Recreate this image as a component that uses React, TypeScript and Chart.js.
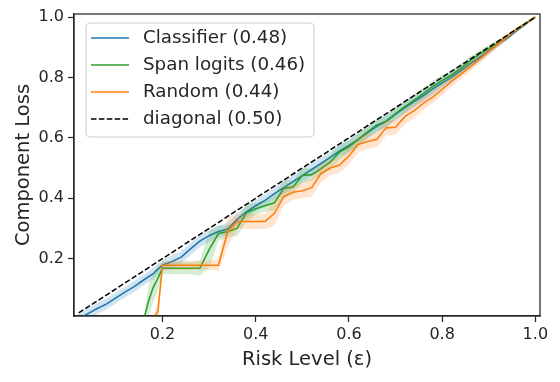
import React, { useEffect, useRef } from "react";
import { Chart, registerables } from "chart.js";

Chart.register(...registerables);

// ---- data ----
const RISK = [
  0.02, 0.04, 0.06, 0.08, 0.1, 0.12, 0.14, 0.16, 0.17, 0.18, 0.19,
  0.2, 0.22, 0.24, 0.26, 0.28, 0.3, 0.32, 0.34, 0.36, 0.38,
  0.4, 0.42, 0.44, 0.46, 0.48, 0.5, 0.52, 0.54, 0.56, 0.58,
  0.6, 0.62, 0.64, 0.66, 0.68, 0.7, 0.72, 0.74, 0.76, 0.78,
  0.8, 0.82, 0.84, 0.86, 0.88, 0.9, 0.92, 0.94, 0.96, 0.98, 1.0,
];

const CLASSIFIER = [
  0.0, 0.018, 0.035, 0.05, 0.07, 0.09, 0.108, 0.13, 0.14, 0.15, 0.165,
  0.178, 0.19, 0.205, 0.232, 0.258, 0.276, 0.29, 0.298, 0.33, 0.355,
  0.375, 0.393, 0.415, 0.435, 0.455, 0.475, 0.495, 0.515, 0.535, 0.557,
  0.575, 0.595, 0.617, 0.638, 0.655, 0.678, 0.7, 0.72, 0.74, 0.762,
  0.782, 0.8, 0.822, 0.845, 0.866, 0.887, 0.91, 0.93, 0.955, 0.977, 1.0,
];
const CLASSIFIER_ERR = [
  0.018, 0.018, 0.018, 0.018, 0.018, 0.018, 0.018, 0.018, 0.018, 0.018, 0.018,
  0.018, 0.02, 0.02, 0.02, 0.02, 0.02, 0.02, 0.02, 0.02, 0.02,
  0.02, 0.02, 0.02, 0.02, 0.022, 0.022, 0.022, 0.02, 0.02, 0.02,
  0.02, 0.02, 0.02, 0.02, 0.02, 0.02, 0.02, 0.02, 0.02, 0.02,
  0.018, 0.016, 0.016, 0.015, 0.014, 0.012, 0.01, 0.008, 0.006, 0.004, 0.0,
];

const SPAN_LOGITS = [
  0, 0, 0, 0, 0, 0, 0, 0, 0.06, 0.105, 0.135,
  0.168, 0.168, 0.168, 0.168, 0.168, 0.23, 0.283, 0.29, 0.3, 0.352,
  0.365, 0.375, 0.385, 0.432, 0.437, 0.475, 0.478, 0.497, 0.52, 0.553,
  0.57, 0.595, 0.62, 0.643, 0.655, 0.68, 0.703, 0.725, 0.747, 0.77,
  0.79, 0.808, 0.83, 0.855, 0.877, 0.895, 0.915, 0.937, 0.96, 0.98, 1.0,
];
const SPAN_LOGITS_ERR = [
  0, 0, 0, 0, 0, 0, 0, 0, 0.05, 0.05, 0.04,
  0.02, 0.02, 0.02, 0.02, 0.025, 0.06, 0.025, 0.02, 0.025, 0.03,
  0.02, 0.02, 0.025, 0.03, 0.02, 0.025, 0.02, 0.02, 0.025, 0.025,
  0.02, 0.02, 0.02, 0.02, 0.02, 0.02, 0.02, 0.02, 0.02, 0.02,
  0.018, 0.016, 0.016, 0.015, 0.014, 0.012, 0.01, 0.008, 0.006, 0.004, 0.0,
];

const RANDOM = [
  0, 0, 0, 0, 0, 0, 0, 0, 0, 0.0, 0.025,
  0.178, 0.178, 0.178, 0.178, 0.178, 0.178, 0.178, 0.29, 0.323, 0.323,
  0.323, 0.323, 0.35, 0.405, 0.42, 0.425, 0.435, 0.482, 0.5, 0.51,
  0.54, 0.578, 0.588, 0.595, 0.633, 0.635, 0.67, 0.69, 0.715, 0.735,
  0.76, 0.787, 0.81, 0.835, 0.86, 0.885, 0.91, 0.935, 0.958, 0.98, 1.0,
];
const RANDOM_ERR = [
  0, 0, 0, 0, 0, 0, 0, 0, 0, 0.01, 0.03,
  0.015, 0.015, 0.015, 0.015, 0.015, 0.015, 0.02, 0.05, 0.025, 0.025,
  0.025, 0.025, 0.04, 0.03, 0.025, 0.025, 0.03, 0.03, 0.025, 0.025,
  0.03, 0.025, 0.025, 0.025, 0.025, 0.025, 0.025, 0.025, 0.022, 0.02,
  0.02, 0.018, 0.016, 0.015, 0.014, 0.012, 0.01, 0.008, 0.006, 0.004, 0.0,
];

const DIAG_X = [0.02, 1.0];
const DIAG_Y = [0.02, 1.0];

const LABELS = ["Classifier (0.48)", "Span logits (0.46)", "Random (0.44)", "diagonal (0.50)"];
const COLORS = ["#1f77b4", "#2ca02c", "#ff7f0e", "#000000"];
const BANDS = ["rgba(31,119,180,0.2)", "rgba(44,160,44,0.2)", "rgba(255,127,14,0.2)"];

const X_TICKS = [0.2, 0.4, 0.6, 0.8, 1.0];
const Y_TICKS = [0.2, 0.4, 0.6, 0.8, 1.0];
const X_TITLE = "Risk Level (\u03b5)";
const Y_TITLE = "Component Loss";

const FONT = "'DejaVu Sans', sans-serif";
const INK = "#262626";

export default function App() {
  const ref = useRef<HTMLCanvasElement>(null);

  useEffect(() => {
    const series = [CLASSIFIER, SPAN_LOGITS, RANDOM];
    const errs = [CLASSIFIER_ERR, SPAN_LOGITS_ERR, RANDOM_ERR];
    const pts = (ys: number[], es: number[] | null, s: number) =>
      RISK.map((x, i) => ({ x, y: ys[i] + (es ? s * es[i] : 0) }));

    const datasets: any[] = [];
    datasets.push({
      label: LABELS[3],
      data: DIAG_X.map((x, i) => ({ x, y: DIAG_Y[i] })),
      borderColor: COLORS[3],
      borderWidth: 1.5,
      borderDash: [5.5, 2.4],
      pointRadius: 0,
      fill: false,
      order: 0,
    });
    // draw order: Random on top, then Span, then Classifier
    [2, 1, 0].forEach((k, j) => {
      datasets.push({
        label: LABELS[k],
        data: pts(series[k], null, 0),
        borderColor: COLORS[k],
        borderWidth: 1.6,
        pointRadius: 0,
        fill: false,
        order: 1 + j * 2,
      });
      datasets.push({
        label: "_upper" + k,
        data: pts(series[k], errs[k], 1),
        borderWidth: 0,
        borderColor: "rgba(0,0,0,0)",
        backgroundColor: BANDS[k],
        pointRadius: 0,
        fill: "+1",
        order: 2 + j * 2,
      });
      datasets.push({
        label: "_lower" + k,
        data: pts(series[k], errs[k], -1),
        borderWidth: 0,
        borderColor: "rgba(0,0,0,0)",
        pointRadius: 0,
        fill: false,
        order: 2 + j * 2,
      });
    });

    const framePlugin = {
      id: "frameAndLegend",
      afterDraw(chart: any) {
        const { ctx, chartArea: a } = chart;
        ctx.save();
        ctx.strokeStyle = INK;
        ctx.lineWidth = 1.25;
        ctx.strokeRect(a.left, a.top, a.right - a.left, a.bottom - a.top);

        // legend box
        const bx = 86, by = 23, bw = 228, bh = 114, r = 4;
        ctx.beginPath();
        ctx.moveTo(bx + r, by);
        ctx.lineTo(bx + bw - r, by);
        ctx.quadraticCurveTo(bx + bw, by, bx + bw, by + r);
        ctx.lineTo(bx + bw, by + bh - r);
        ctx.quadraticCurveTo(bx + bw, by + bh, bx + bw - r, by + bh);
        ctx.lineTo(bx + r, by + bh);
        ctx.quadraticCurveTo(bx, by + bh, bx, by + bh - r);
        ctx.lineTo(bx, by + r);
        ctx.quadraticCurveTo(bx, by, bx + r, by);
        ctx.closePath();
        ctx.fillStyle = "rgba(255,255,255,0.8)";
        ctx.fill();
        ctx.strokeStyle = "#cccccc";
        ctx.lineWidth = 1;
        ctx.stroke();

        const rows = [38, 65, 92, 119];
        ctx.font = `18.3px ${FONT}`;
        ctx.textBaseline = "middle";
        ctx.textAlign = "left";
        LABELS.forEach((lab, i) => {
          const y = rows[i];
          ctx.beginPath();
          ctx.strokeStyle = COLORS[i];
          ctx.lineWidth = i === 3 ? 1.5 : 1.6;
          ctx.setLineDash(i === 3 ? [5.5, 2.4] : []);
          ctx.moveTo(91, y);
          ctx.lineTo(129, y);
          ctx.stroke();
          ctx.setLineDash([]);
          ctx.fillStyle = INK;
          ctx.fillText(lab, 143, y);
        });
        ctx.restore();
      },
    };

    const chart = new Chart(ref.current as HTMLCanvasElement, {
      type: "line",
      data: { datasets },
      options: {
        animation: false,
        responsive: false,
        layout: { padding: { top: 14, right: 20, left: 0, bottom: 0 } },
        plugins: { legend: { display: false }, tooltip: { enabled: false } },
        scales: {
          x: {
            type: "linear",
            min: 0.01,
            max: 1.01,
            afterBuildTicks: (s: any) => {
              s.ticks = X_TICKS.map((v) => ({ value: v }));
            },
            afterFit: (s: any) => {
              s.height = 66;
            },
            ticks: {
              font: { family: FONT, size: 16 },
              color: INK,
              padding: 3,
              maxRotation: 0,
              autoSkip: false,
              callback: (v: any) => Number(v).toFixed(1),
            },
            grid: {
              display: true,
              drawOnChartArea: false,
              drawTicks: true,
              tickLength: 6,
              tickWidth: 1.25,
              tickColor: INK,
            },
            border: { display: true, color: INK, width: 1.25 },
            title: {
              display: true,
              text: X_TITLE,
              font: { family: FONT, size: 19.5 },
              color: INK,
              padding: { top: 0, bottom: 10 },
            },
          },
          y: {
            type: "linear",
            min: 0.01,
            max: 1.01,
            afterBuildTicks: (s: any) => {
              s.ticks = Y_TICKS.map((v) => ({ value: v }));
            },
            afterFit: (s: any) => {
              s.width = 74;
            },
            ticks: {
              font: { family: FONT, size: 16 },
              color: INK,
              padding: 4,
              autoSkip: false,
              callback: (v: any) => Number(v).toFixed(1),
            },
            grid: {
              display: true,
              drawOnChartArea: false,
              drawTicks: true,
              tickLength: 6,
              tickWidth: 1.25,
              tickColor: INK,
            },
            border: { display: true, color: INK, width: 1.25 },
            title: {
              display: true,
              text: Y_TITLE,
              font: { family: FONT, size: 19.5 },
              color: INK,
              padding: { top: 12, bottom: 0 },
            },
          },
        },
      },
      plugins: [framePlugin],
    });
    return () => chart.destroy();
  }, []);

  return (
    <div style={{ position: "fixed", left: 0, top: 0, width: 560, height: 382, background: "#fff" }}>
      <canvas ref={ref} width={560} height={382} style={{ display: "block" }} />
    </div>
  );
}
